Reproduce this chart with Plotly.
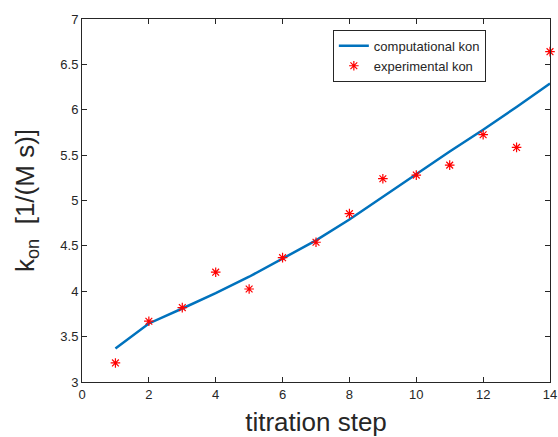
import plotly.graph_objects as go

steps = list(range(1, 15))
computational_kon = [3.37, 3.645, 3.81, 3.98, 4.16, 4.36, 4.56, 4.79, 5.04, 5.29, 5.54, 5.78, 6.03, 6.29]
experimental_kon = [3.21, 3.67, 3.82, 4.21, 4.025, 4.37, 4.54, 4.855, 5.24, 5.28, 5.39, 5.725, 5.585, 6.64]
x_ticks = [0, 2, 4, 6, 8, 10, 12, 14]
y_ticks = [3, 3.5, 4, 4.5, 5, 5.5, 6, 6.5, 7]
y_tick_labels = ["3", "3.5", "4", "4.5", "5", "5.5", "6", "6.5", "7"]

FONT = "Liberation Sans"
AX = "#262626"

fig = go.Figure()
fig.add_trace(go.Scatter(
    x=steps, y=computational_kon, mode="lines", name="computational kon",
    line=dict(color="#0072BD", width=2.5), cliponaxis=False,
))
fig.add_trace(go.Scatter(
    x=steps, y=experimental_kon, mode="markers", name="experimental kon",
    marker=dict(symbol="asterisk-open", size=8, color="red", line=dict(color="red", width=1.2)),
    cliponaxis=False,
))

axis_common = dict(
    showline=True, linecolor=AX, linewidth=1, mirror="ticks",
    ticks="inside", ticklen=5, tickcolor=AX, tickwidth=1,
    showgrid=False, zeroline=False, automargin=False,
    ticklabeloverflow="allow",
    tickfont=dict(family=FONT, size=13, color=AX),
)

fig.update_layout(
    width=558, height=437,
    margin=dict(l=82, r=8, t=19, b=55),
    paper_bgcolor="white", plot_bgcolor="white",
    font=dict(family=FONT, color=AX),
    xaxis=dict(range=[0, 14], tickvals=x_ticks, **axis_common,
               title=dict(text="titration step", font=dict(family=FONT, size=26, color=AX), standoff=14)),
    yaxis=dict(range=[3, 7], tickvals=y_ticks, ticktext=y_tick_labels, **axis_common,
               title=dict(text="k<sub>on</sub>  [1/(M s)]", font=dict(family=FONT, size=26, color=AX), standoff=18)),
    legend=dict(x=0.536, y=0.97, xanchor="left", yanchor="top",
                bgcolor="white", bordercolor=AX, borderwidth=1,
                font=dict(family=FONT, size=13, color=AX),
                tracegroupgap=0, entrywidth=150),
    showlegend=True,
)

fig.write_html(
    "out.html",
    config={"displayModeBar": False},
    post_script="document.body.style.margin='0px';document.documentElement.style.overflow='hidden';",
)
